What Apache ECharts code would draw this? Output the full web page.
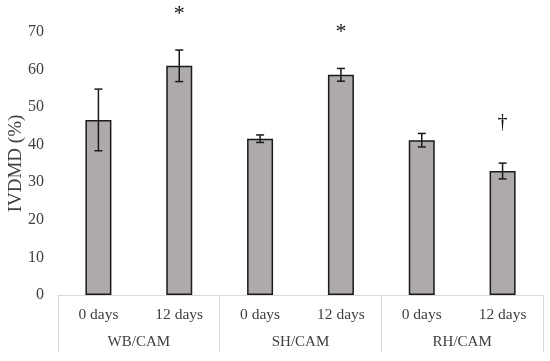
<!DOCTYPE html>
<html>
<head>
<meta charset="utf-8">
<script src="https://cdn.jsdelivr.net/npm/echarts@6/dist/echarts.min.js"></script>
<style>html,body{margin:0;padding:0;background:#fff;}#c{width:550px;height:361px;}</style>
</head>
<body>
<div id="c"></div>
<script>
var dayLabels = ["0 days", "12 days", "0 days", "12 days", "0 days", "12 days"];
var groupLabels = ["WB/CAM", "SH/CAM", "RH/CAM"];
var means = [46.6, 61.0, 41.6, 58.6, 41.2, 33.0];
var errors = [8.2, 4.2, 1.0, 1.7, 1.8, 2.1];
var marks = ["", "*", "", "*", "", "\u2020"];
var yTicks = [0, 10, 20, 30, 40, 50, 60, 70];

var FONT = "'Liberation Serif', 'Times New Roman', serif";
var chart = echarts.init(document.getElementById('c'), null, {renderer: 'canvas'});
var errData = means.map(function (m, i) { return [i, m - errors[i], m + errors[i], marks[i]]; });

chart.setOption({
  animation: false,
  grid: {left: 58, right: 7, top: 32, bottom: 66, containLabel: false, outerBoundsMode: 'none'},
  xAxis: [{
    type: 'category', data: dayLabels, position: 'bottom',
    axisLine: {show: true, lineStyle: {color: '#d9d9d9', width: 1}},
    axisTick: {show: false},
    axisLabel: {color: '#404040', fontFamily: FONT, fontSize: 15.5, margin: 12, interval: 0}
  }, {
    type: 'category', data: groupLabels, position: 'bottom',
    axisLine: {show: false},
    axisTick: {show: true, length: 57, lineStyle: {color: '#d9d9d9', width: 1}, interval: 0},
    axisLabel: {color: '#404040', fontFamily: FONT, fontSize: 15, margin: 40, interval: 0}
  }],
  yAxis: {
    type: 'value', min: yTicks[0], max: yTicks[yTicks.length - 1], interval: 10,
    axisLine: {show: false}, axisTick: {show: false}, splitLine: {show: false},
    axisLabel: {color: '#404040', fontFamily: FONT, fontSize: 16, margin: 14},
    name: 'IVDMD (%)', nameLocation: 'middle', nameGap: 32, nameRotate: 90, nameMoveOverlap: false,
    nameTextStyle: {color: '#404040', fontFamily: FONT, fontSize: 19}
  },
  series: [{
    type: 'bar', xAxisIndex: 0, data: means, barWidth: 26,
    itemStyle: {color: '#aeaaaa', borderColor: '#1a1a1a', borderWidth: 1.5}
  }, {
    type: 'custom', xAxisIndex: 0, data: errData, z: 10, clip: false,
    renderItem: function (params, api) {
      var x = api.value(0);
      var lo = api.coord([x, api.value(1)]);
      var hi = api.coord([x, api.value(2)]);
      var cap = 4;
      var style = {stroke: '#1a1a1a', lineWidth: 1.5};
      var children = [
        {type: 'line', shape: {x1: hi[0], y1: hi[1], x2: lo[0], y2: lo[1]}, style: style},
        {type: 'line', shape: {x1: hi[0] - cap, y1: hi[1], x2: hi[0] + cap, y2: hi[1]}, style: style},
        {type: 'line', shape: {x1: lo[0] - cap, y1: lo[1], x2: lo[0] + cap, y2: lo[1]}, style: style}
      ];
      var mk = marks[params.dataIndex];
      if (mk) {
        children.push({type: 'text', style: {
          text: mk, x: hi[0], y: hi[1] - (mk === '*' ? 36 : 40), align: 'center', verticalAlign: 'middle',
          fill: '#111', font: (mk === '*' ? '22px ' : '20px ') + FONT
        }});
      }
      return {type: 'group', children: children};
    }
  }]
});
</script>
</body>
</html>
